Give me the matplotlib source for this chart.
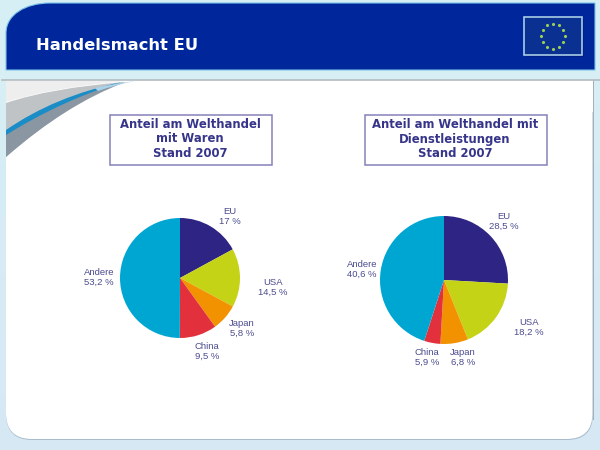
import matplotlib
matplotlib.use('Agg')
import matplotlib.pyplot as plt
import numpy as np
from matplotlib.patches import FancyBboxPatch, PathPatch, Rectangle
from matplotlib.path import Path

# data
categories = ['EU', 'USA', 'Japan', 'China', 'Andere']
waren_labels = ['17 %', '14,5 %', '5,8 %', '9,5 %', '53,2 %']
dienst_labels = ['28,5 %', '18,2 %', '6,8 %', '5,9 %', '40,6 %']
# slices as they are drawn in the picture (they differ a bit from the printed numbers)
waren_shares = [17.1, 15.8, 7.2, 10.0, 50.0]
dienst_shares = [25.9, 18.0, 7.0, 4.1, 45.0]
waren_title = 'Anteil am Welthandel\nmit Waren\nStand 2007'
dienst_title = 'Anteil am Welthandel mit\nDienstleistungen\nStand 2007'
page_title = 'Handelsmacht EU'

slice_colors = ['#2e2483', '#c5d316', '#f39200', '#e2313c', '#00a6d2']
text_color = '#4b4b8f'
title_color = '#37358a'

H = 450


def Y(y):
    # picture coordinates have y going down
    return H - y


def swoosh(points, **kw):
    # closed shape made of two quadratic curves
    verts = [(x, Y(y)) for x, y in points] + [(points[0][0], Y(points[0][1]))]
    codes = [Path.MOVETO, Path.CURVE3, Path.CURVE3, Path.CURVE3, Path.CURVE3, Path.LINETO]
    return PathPatch(Path(verts, codes), lw=0, **kw)


def draw_pie(ax, shares, labels, cx, cy, r, label_xy):
    ax.pie(shares, colors=slice_colors, startangle=90, counterclock=False,
           center=(cx, Y(cy)), radius=r, frame=True, wedgeprops={'linewidth': 0})
    for name, val, (x, y) in zip(categories, labels, label_xy):
        ax.text(x, Y(y), name + '\n' + val, ha='center', va='center', fontsize=6.8,
                color=text_color, family='Liberation Sans', linespacing=1.17)


def draw_box(ax, x0, x1, y0, y1, text):
    ax.add_patch(Rectangle((x0, Y(y1)), x1 - x0, y1 - y0, fc='white', ec='#8581bb', lw=1.1, zorder=3))
    ax.text((x0 + x1) / 2 - 1, Y(139), text, ha='center', va='center', fontsize=8.35,
            fontweight='bold', color=title_color, family='DejaVu Sans', linespacing=1.17, zorder=4)


fig = plt.figure(figsize=(6, 4.5), dpi=100)
ax = fig.add_axes([0, 0, 1, 1])

# light blue page background
top = np.array([0.84, 0.94, 0.96])
bottom = np.array([0.84, 0.91, 0.96])
grad = np.linspace(0, 1, 64)[:, None, None] * (bottom - top)[None, None, :] + top
ax.imshow(grad, extent=(0, 600, 0, 450), aspect='auto', origin='upper', zorder=0)

# white panel with a thin shadow on the right and at the bottom
ax.add_patch(Rectangle((592.5, Y(420)), 1.4, 340, fc='#a6b0ba', lw=0, zorder=1))
ax.add_patch(FancyBboxPatch((6 + 26, Y(440) + 26), 587 - 52, 360 - 52, boxstyle='round,pad=26,rounding_size=26',
                            fc='#a9bccb', lw=0, zorder=1))
ax.add_patch(FancyBboxPatch((6 + 26, Y(439) + 26), 586.5 - 52, 359 - 52, boxstyle='round,pad=26,rounding_size=26',
                            fc='white', lw=0, zorder=1))
ax.add_patch(Rectangle((6, Y(112)), 586.5, 32, fc='white', lw=0, zorder=1))
ax.plot([2, 600], [Y(80), Y(80)], color='#b4bcc0', lw=1.2, zorder=2)

# corner decoration
ax.add_patch(swoosh([(6, 103), (50, 88), (125, 82), (60, 108), (6, 157)], fc='#bfc3c6', zorder=2))
ax.add_patch(swoosh([(6, 81), (60, 81), (125, 81), (50, 88), (6, 102)], fc='#eeeeee', zorder=2))
ax.add_patch(swoosh([(6, 133), (60, 97), (125, 82), (68, 103), (6, 157)], fc='#8a96a2', zorder=2))
ax.add_patch(swoosh([(6, 130), (55, 96), (122, 82), (62, 100), (6, 135)], fc='#1a8cc6', zorder=2))
ax.add_patch(swoosh([(95, 88), (112, 84), (135, 81), (115, 85), (98, 91)], fc='#a9d3ea', zorder=2))

# header bar, only the top left corner is rounded
verts = [(6, Y(70)), (6, Y(33)), (6, Y(15)), (25, Y(3)), (50, Y(3)), (595, Y(3)), (595, Y(70)), (6, Y(70))]
codes = [Path.MOVETO, Path.LINETO, Path.CURVE4, Path.CURVE4, Path.CURVE4, Path.LINETO, Path.LINETO, Path.CLOSEPOLY]
ax.add_patch(PathPatch(Path(verts, codes), fc='#00269b', ec='#7cc3e6', lw=0.8, zorder=3))
ax.text(36, Y(45.5), page_title, color='white', fontsize=11.8, fontweight='bold', family='DejaVu Sans',
        ha='left', va='center', zorder=4)

# flag
ax.add_patch(Rectangle((526, Y(57)), 58, 38, fc='#001a7a', lw=0, alpha=0.6, zorder=4))
ax.add_patch(Rectangle((524, Y(55)), 58, 38, fc='#0a3192', ec='#a7cde6', lw=1.2, zorder=5))
t = np.deg2rad(np.arange(0, 360, 30))
ax.scatter(553 + 12 * np.cos(t), Y(36) + 12.5 * np.sin(t), s=5, marker='o', color='#9ccf55', lw=0, zorder=6)

# title boxes
draw_box(ax, 110, 272, 115, 165, waren_title)
draw_box(ax, 365, 547, 115, 165, dienst_title)

# pies
draw_pie(ax, waren_shares, waren_labels, 180, 278, 60,
         [(230, 216.5), (273, 287.5), (242, 328.5), (207, 351.5), (99, 277.5)])
draw_pie(ax, dienst_shares, dienst_labels, 444, 280, 64,
         [(504, 221.5), (529, 327.5), (463, 357.5), (427, 357.5), (362, 269.5)])

ax.set_xlim(0, 600)
ax.set_ylim(0, 450)
ax.set_aspect('auto')
ax.axis('off')

fig.savefig('out.png', dpi=100)
plt.close(fig)
